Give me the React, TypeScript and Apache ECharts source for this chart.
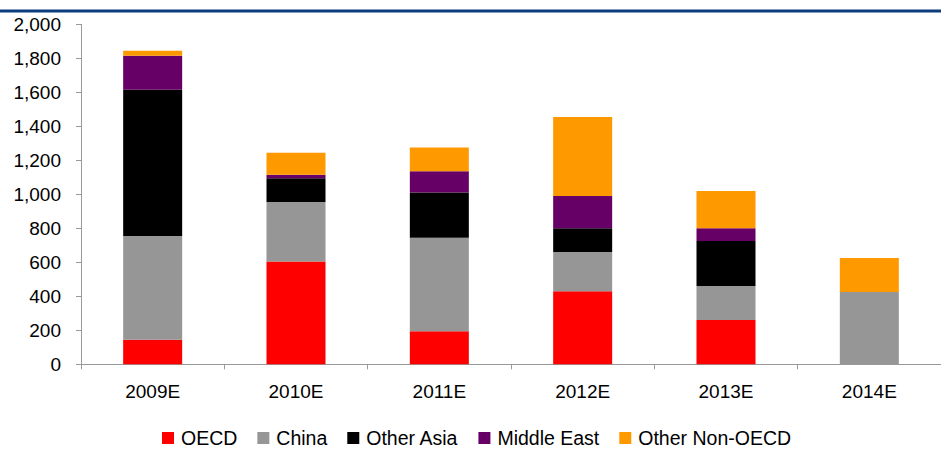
import React, { useEffect, useRef } from "react";
import * as echarts from "echarts";

// Years on the category axis
const years = ["2009E", "2010E", "2011E", "2012E", "2013E", "2014E"];

// Stacked components per year
const oecd = [145, 605, 195, 430, 260, 0];
const china = [610, 350, 550, 230, 200, 425];
const otherAsia = [860, 140, 265, 140, 265, 0];
const middleEast = [200, 20, 125, 190, 75, 0];
const otherNonOecd = [30, 130, 140, 465, 220, 200];

const seriesDefs = [
  { name: "OECD", data: oecd, color: "#ff0000" },
  { name: "China", data: china, color: "#969696" },
  { name: "Other Asia", data: otherAsia, color: "#000000" },
  { name: "Middle East", data: middleEast, color: "#660066" },
  { name: "Other Non-OECD", data: otherNonOecd, color: "#ff9900" },
];

const FONT = "'Liberation Sans', Arial, sans-serif";

export default function App() {
  const ref = useRef<HTMLDivElement>(null);

  useEffect(() => {
    if (!ref.current) return;
    const chart = echarts.init(ref.current, undefined, { renderer: "svg" });
    chart.setOption({
      animation: false,
      backgroundColor: "#ffffff",
      textStyle: { fontFamily: FONT },
      grid: { left: 81, right: -13.5, top: 24.3, bottom: 84.7, containLabel: false },
      graphic: [
        {
          type: "line",
          shape: { x1: 0, y1: 11, x2: 941, y2: 11 },
          style: { stroke: "#0b3d7e", lineWidth: 3 },
        },
      ],
      legend: {
        top: 423,
        left: 157,
        padding: [5, 0, 0, 5],
        itemWidth: 12,
        itemHeight: 12,
        itemGap: 20,
        icon: "rect",
        textStyle: { fontSize: 19.5, color: "#000", fontFamily: FONT, padding: [0, 0, 0, 2] },
        data: seriesDefs.map((s) => s.name),
      },
      xAxis: {
        type: "category",
        data: years,
        axisLine: { lineStyle: { color: "#999999", width: 1 } },
        axisTick: { show: true, length: 5, lineStyle: { color: "#999999" } },
        axisLabel: { fontSize: 19, color: "#000", margin: 18, fontFamily: FONT },
      },
      yAxis: {
        type: "value",
        min: 0,
        max: 2000,
        interval: 200,
        splitLine: { show: false },
        axisLine: { show: true, lineStyle: { color: "#999999", width: 1 } },
        axisTick: { show: true, length: 5, lineStyle: { color: "#999999" } },
        axisLabel: {
          fontSize: 19,
          color: "#000",
          margin: 20,
          fontFamily: FONT,
          formatter: (v: number) => v.toLocaleString("en-US"),
        },
      },
      series: seriesDefs.map((s) => ({
        name: s.name,
        type: "bar",
        stack: "total",
        barWidth: 59,
        data: s.data,
        itemStyle: { color: s.color },
      })),
    });
    return () => chart.dispose();
  }, []);

  return (
    <div
      ref={ref}
      style={{ position: "fixed", left: 0, top: 0, width: 941, height: 449, background: "#fff" }}
    />
  );
}
